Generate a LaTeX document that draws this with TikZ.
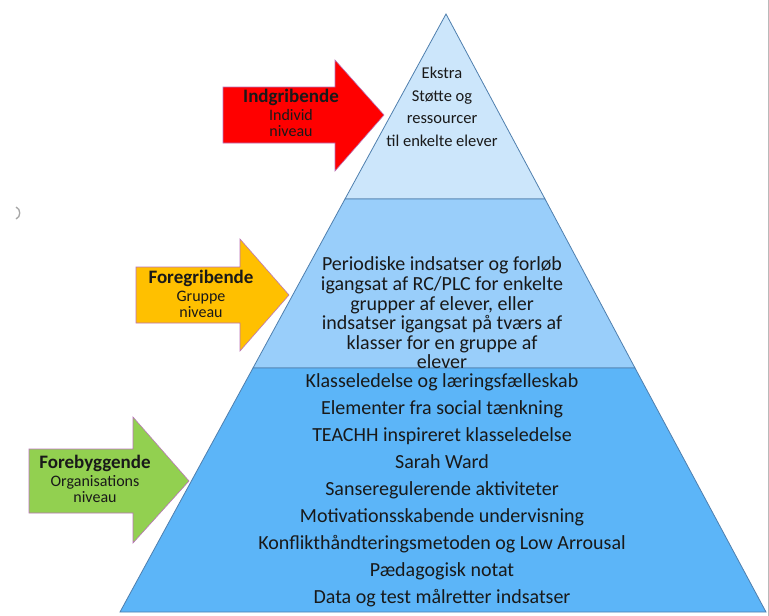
\documentclass[tikz,border=0pt]{standalone}
\usepackage{fontspec}
\setmainfont{Carlito}
\usepackage{tikz}
\usetikzlibrary{positioning}
\definecolor{tiertop}{HTML}{CCE6FB}
\definecolor{tiermid}{HTML}{99CEFA}
\definecolor{tierbase}{HTML}{5CB5F8}
\definecolor{tierline}{HTML}{4F7FAE}
\definecolor{arrred}{HTML}{FF0000}
\definecolor{arryellow}{HTML}{FFC000}
\definecolor{arrgreen}{HTML}{92D050}
\tikzset{
x=1pt, y=-1pt, % pixel-like units, y grows downward
tier/.style={draw=tierline, line width=0.8pt}, % the three layers of the pyramid
level/.style={draw=violet!55, line width=0.6pt}, % the big arrows on the left
tiertext/.style={align=center, inner sep=0pt, text=black!90}, % text inside the pyramid
leveltext/.style={align=center, inner sep=0pt, text=black!90}, % text on the arrows
}
\begin{document}
\begin{tikzpicture}
  \useasboundingbox (0,0) rectangle (769,616);
  \fill[white] (0,0) rectangle (769,616);

  % Pyramid corners
  \coordinate (apex) at (446,14);
  \coordinate (t1l) at (345,199);
  \coordinate (t1r) at (545,199);
  \coordinate (t2l) at (253,368);
  \coordinate (t2r) at (635,368);
  \coordinate (bl) at (120,612);
  \coordinate (br) at (766,612);

  % Tiers
  \draw[tier, fill=tiertop] (apex) -- (t1r) -- (t1l) -- cycle;
  \draw[tier, fill=tiermid] (t1l) -- (t1r) -- (t2r) -- (t2l) -- cycle;
  \draw[tier, fill=tierbase] (t2l) -- (t2r) -- (br) -- (bl) -- cycle;

  % Tier texts
  \node[tiertext, font=\fontsize{16.5}{22.5}\selectfont] (ekstra) at (442,107)
    {Ekstra\\ Støtte og\\ ressourcer\\ til enkelte elever};
  \node[tiertext, font=\fontsize{20}{19.6}\selectfont] (periodisk) at (442,313)
    {Periodiske indsatser og forløb\\ igangsat af RC/PLC for enkelte\\ grupper af elever, eller\\ indsatser igangsat på tværs af\\ klasser for en gruppe af\\ elever};
  \node[tiertext, font=\fontsize{20}{27}\selectfont] (klasse) at (442,490)
    {Klasseledelse og læringsfælleskab\\ Elementer fra social tænkning\\ TEACHH inspireret klasseledelse\\ Sarah Ward\\ Sanseregulerende aktiviteter\\ Motivationsskabende undervisning\\ Konflikthåndteringsmetoden og Low Arrousal\\ Pædagogisk notat\\ Data og test målretter indsatser};

  % Arrows
  \draw[level, fill=arrred] (223,87) -- (335,87) -- (335,60) -- (384,115)
    -- (335,171) -- (335,143) -- (223,143) -- cycle;
  \draw[level, fill=arryellow] (136,267) -- (240,267) -- (240,239) -- (289,295)
    -- (240,351) -- (240,323) -- (136,323) -- cycle;
  \draw[level, fill=arrgreen] (29,449) -- (133,449) -- (133,417) -- (189,481)
    -- (133,543) -- (133,513) -- (29,513) -- cycle;

  % Arrow texts
  \node[leveltext, font=\bfseries\fontsize{19}{19}\selectfont] (indgrib) at (291,97) {Indgribende};
  \node[leveltext, font=\fontsize{16}{16}\selectfont, below=4pt of indgrib] {Individ\\ niveau};
  \node[leveltext, font=\bfseries\fontsize{19}{19}\selectfont] (foregrib) at (201,278) {Foregribende};
  \node[leveltext, font=\fontsize{16}{16}\selectfont, below=4pt of foregrib] {Gruppe\\ niveau};
  \node[leveltext, font=\bfseries\fontsize{19}{19}\selectfont] (forebyg) at (95,463) {Forebyggende};
  \node[leveltext, font=\fontsize{16}{16}\selectfont, below=4pt of forebyg] {Organisations\\ niveau};

  % Frame remains
  \draw[gray!55, line width=0.8pt] (768,0) -- (768,616);
  \draw[gray!70, line width=1.3pt] (16,207) .. controls (21,209) and (21,217) .. (16,219);
\end{tikzpicture}
\end{document}
